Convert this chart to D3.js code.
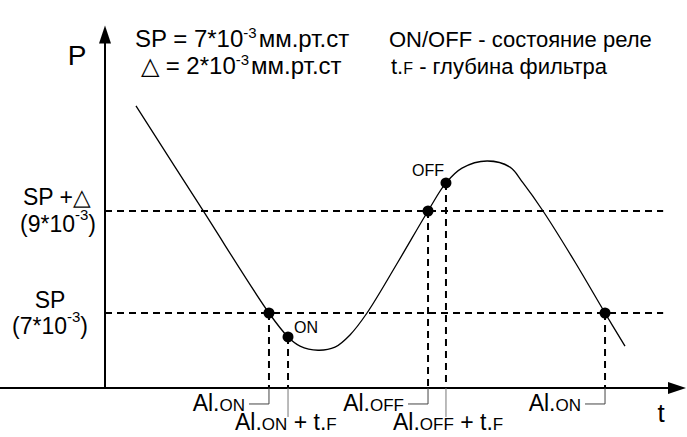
<!DOCTYPE html>
<html>
<head>
  <meta charset="utf-8">
  <title>Relay hysteresis</title>
  <script src="https://cdn.jsdelivr.net/npm/d3@7/dist/d3.min.js"></script>
  <style>
    body { margin: 0; background: #fff; }
    text { font-family: "Liberation Sans", Arial, sans-serif; fill: #000; }
  </style>
</head>
<body>
  <script type="text/javascript">
    //Width and height
    var w = 687;
    var h = 437;

    // pressure, units of 10^-3 mm Hg
    var setPoint = 7;
    var delta = 2;
    var levels = [setPoint, setPoint + delta];

    // the curve, time (arbitrary units) and pressure
    var curveT = [5.35, 16.75, 28.32, 31.61, 33.68, 36.79, 39.72, 42.31, 45.25, 50.6, 55.79, 58.89, 61.66, 65.98, 69.95, 72.2, 75.65, 81.17, 86.36, 89.81];
    var curveP = [11.06, 9.04, 7, 6.53, 6.35, 6.27, 6.33, 6.57, 7, 8, 9, 9.55, 9.84, 9.98, 9.86, 9.55, 9, 8, 7, 6.35];

    // switching points
    var markT = [28.32, 31.61, 55.79, 58.89, 86.36];
    var markP = [7, 6.53, 9, 9.55, 7];
    var markMain = ["Al.", "Al.", "Al.", "Al.", "Al."];
    var markSub = ["ON", "ON", "OFF", "OFF", "ON"];
    var markRow = [1, 2, 1, 2, 1];   // row 2 = "+ t.F"

    //Define scales
    var x = d3.scaleLinear().domain([0, 100]).range([105, 684]);
    var y = d3.scaleLinear().domain([7, 9]).range([313, 211]);
    var pMin = 5.53, pMax = 12.62, tDash = 96.4;

    //Create SVG element
    var svg = d3.select("body")
      .append("svg")
      .attr("width", w)
      .attr("height", h);

    // dashed level lines
    svg.selectAll(".level")
      .data(levels)
      .enter()
      .append("line")
      .attr("x1", x(0)).attr("x2", x(tDash))
      .attr("y1", d => y(d)).attr("y2", d => y(d))
      .attr("stroke", "#000").attr("stroke-width", 2)
      .attr("stroke-dasharray", "7,5");

    // dashed verticals down to the time axis
    svg.selectAll(".drop")
      .data(markT)
      .enter()
      .append("line")
      .attr("x1", d => x(d)).attr("x2", d => x(d))
      .attr("y1", (d, i) => y(markP[i])).attr("y2", y(pMin))
      .attr("stroke", "#000").attr("stroke-width", 2)
      .attr("stroke-dasharray", "7,5");

    // axes
    var xAxis = svg.append("g")
      .attr("transform", "translate(0," + y(pMin) + ")")
      .call(d3.axisBottom(x).tickValues([]).tickSizeOuter(0));
    var yAxis = svg.append("g")
      .attr("transform", "translate(" + x(0) + ",0)")
      .call(d3.axisLeft(y).tickValues([]).tickSizeOuter(0));
    yAxis.select(".domain").attr("d", "M0," + y(pMin) + "V" + y(pMax - 0.3));
    xAxis.select(".domain").attr("d", "M0,0H" + (x(100) - 15));
    svg.selectAll(".domain").attr("stroke", "#000").attr("stroke-width", 2);

    // arrow heads
    svg.append("path")
      .attr("d", "M" + x(0) + "," + (y(pMax) - 1) + "l-6,18h12z")
      .attr("fill", "#000");
    svg.append("path")
      .attr("d", "M" + (x(100) + 2) + "," + y(pMin) + "l-18,-6v12z")
      .attr("fill", "#000");

    svg.append("text").attr("x", 77).attr("y", 65)
      .attr("text-anchor", "middle").style("font-size", "28px").text("P");
    svg.append("text").attr("x", 661).attr("y", 422)
      .attr("text-anchor", "middle").style("font-size", "26px").text("t");

    // the pressure curve
    var line = d3.line()
      .x(d => x(d[0]))
      .y(d => y(d[1]))
      .curve(d3.curveCatmullRom.alpha(0.5));
    svg.append("path")
      .datum(d3.zip(curveT, curveP))
      .attr("d", line)
      .attr("fill", "none")
      .attr("stroke", "#000")
      .attr("stroke-width", 1.3);

    // markers
    svg.selectAll(".mark")
      .data(markT)
      .enter()
      .append("circle")
      .attr("cx", d => x(d))
      .attr("cy", (d, i) => y(markP[i]))
      .attr("r", 5.5)
      .attr("fill", "#000");

    svg.append("text").attr("x", x(markT[1]) + 6).attr("y", y(markP[1]) - 4)
      .style("font-size", "16px").text("ON");
    svg.append("text").attr("x", x(markT[3]) - 2).attr("y", y(markP[3]) - 7)
      .attr("text-anchor", "end").style("font-size", "16px").text("OFF");

    // level labels
    var lev = svg.append("g").style("font-size", "23px");
    lev.append("text").attr("x", 57).attr("y", 205)
      .attr("text-anchor", "middle").text("SP +\u25B3");
    lev.append("text").attr("x", 50).attr("y", 308)
      .attr("text-anchor", "middle").text("SP");
    levels.forEach(function(v, i) {
      var t = lev.append("text")
        .attr("x", i ? 58 : 50).attr("y", y(v) + 21)
        .attr("text-anchor", "middle");
      t.append("tspan").text("(" + v + "*10");
      t.append("tspan").attr("dy", -12).style("font-size", "15px").text("-3");
      t.append("tspan").attr("dy", 12).text(")");
    });

    // time labels with leaders
    var base = y(pMin);
    markT.forEach(function(d, i) {
      var lx = x(d);
      var t;
      if (markRow[i] == 1) {
        svg.append("path")
          .attr("d", "M" + lx + "," + base + "V" + (base + 16) + "H" + (lx - 20))
          .attr("fill", "none").attr("stroke", "#444").attr("stroke-width", 1);
        t = svg.append("text").attr("x", lx - 24).attr("y", base + 23)
          .attr("text-anchor", "end").style("font-size", "23px");
        t.append("tspan").text(markMain[i]);
        t.append("tspan").style("font-size", "17px").text(markSub[i]);
      } else {
        svg.append("line")
          .attr("x1", lx).attr("x2", lx).attr("y1", base).attr("y2", base + 29)
          .attr("stroke", "#777").attr("stroke-width", 1);
        t = svg.append("text").attr("x", lx - 53).attr("y", base + 42)
          .style("font-size", "23px");
        t.append("tspan").text(markMain[i]);
        t.append("tspan").style("font-size", "17px").text(markSub[i]);
        t.append("tspan").text(" + t.");
        t.append("tspan").style("font-size", "17px").text("F");
      }
    });

    // legend
    var leg = svg.append("g").style("font-size", "22px");
    var l1 = leg.append("text").attr("x", 135).attr("y", 47).style("font-size", "24px");
    l1.append("tspan").text("SP = " + setPoint + "*10");
    l1.append("tspan").attr("dy", -9).style("font-size", "15px").text("-3");
    l1.append("tspan").attr("dy", 9).attr("dx", 2).text("мм.рт.ст");
    var l2 = leg.append("text").attr("x", 141).attr("y", 74).style("font-size", "24px");
    l2.append("tspan").text("\u25B3 = " + delta + "*10");
    l2.append("tspan").attr("dy", -9).style("font-size", "15px").text("-3");
    l2.append("tspan").attr("dy", 9).attr("dx", 2).text("мм.рт.ст");
    leg.append("text").attr("x", 389).attr("y", 47).text("ON/OFF - состояние реле");
    var l4 = leg.append("text").attr("x", 391).attr("y", 74);
    l4.append("tspan").text("t.");
    l4.append("tspan").style("font-size", "16px").text("F");
    l4.append("tspan").text(" - глубина фильтра");
  </script>
</body>
</html>
